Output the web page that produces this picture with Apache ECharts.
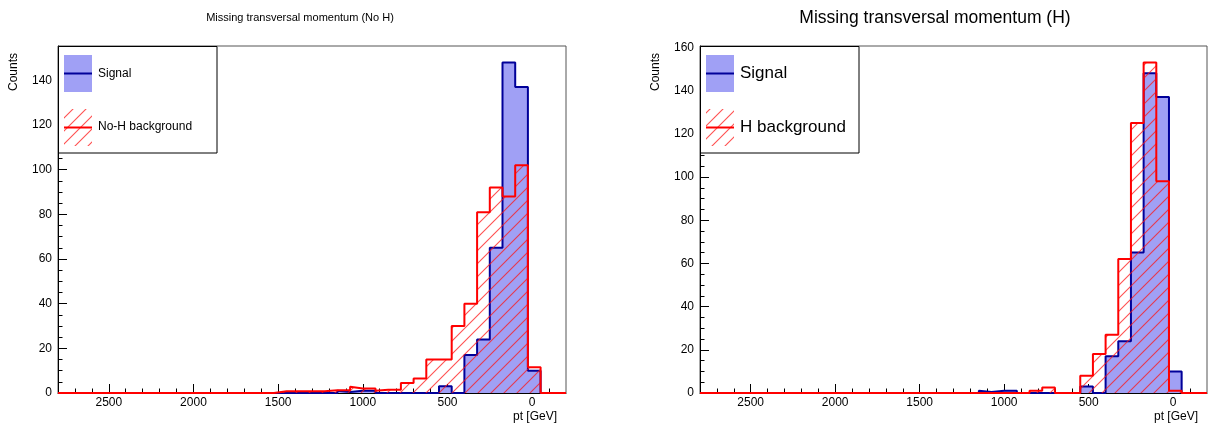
<!DOCTYPE html>
<html>
<head>
<meta charset="utf-8">
<script src="https://cdn.jsdelivr.net/npm/echarts@6/dist/echarts.min.js"></script>
<style>
  html, body { margin: 0; padding: 0; background: #fff; }
  #chart { width: 1210px; height: 426px; }
</style>
</head>
<body>
<div id="chart"></div>
<script>
// Missing transverse momentum histograms: 40 bins of 75 GeV from -200 to 2800 GeV
const BIN_START = -200;
const BIN_WIDTH = 75;
const X_MIN = -200;
const X_MAX = 2800;

// Signal counts per bin (ascending pt)
const signalCounts = [
  0, 0, 10, 137, 148, 65, 24, 17, 0, 3,
  0, 0, 0, 0, 0, 1, 0.5, 1, 0, 0,
  0, 0, 0, 0, 0, 0, 0, 0, 0, 0,
  0, 0, 0, 0, 0, 0, 0, 0, 0, 0
];

// No-H background counts per bin
const noHCounts = [
  0, 0, 11.5, 102, 88, 92, 81, 40, 30, 15,
  15, 6.5, 4.5, 1.5, 1, 2, 2.8, 1.2, 0.8, 0.8,
  0.8, 0.8, 0, 0, 0, 0, 0, 0, 0, 0,
  0, 0, 0, 0, 0, 0, 0, 0, 0, 0
];

// H background counts per bin
const hCounts = [
  0, 0, 1, 98, 153, 125, 62, 27, 18, 8,
  0, 0, 2.5, 1, 0, 0, 0, 0, 0, 0,
  0, 0, 0, 0, 0, 0, 0, 0, 0, 0,
  0, 0, 0, 0, 0, 0, 0, 0, 0, 0
];

// Axis ticks
const xMajorTicks = [0, 500, 1000, 1500, 2000, 2500];
const xMinorTicks = [-100, 100, 200, 300, 400, 600, 700, 800, 900, 1100, 1200, 1300, 1400,
  1600, 1700, 1800, 1900, 2100, 2200, 2300, 2400, 2600, 2700];
const yMajorLeft = [0, 20, 40, 60, 80, 100, 120, 140];
const yMajorRight = [0, 20, 40, 60, 80, 100, 120, 140, 160];
const yMinorTicks = [5, 10, 15, 25, 30, 35, 45, 50, 55, 65, 70, 75, 85, 90, 95,
  105, 110, 115, 125, 130, 135, 145, 150, 155];

const titles = ['Missing transversal momentum (No H)', 'Missing transversal momentum (H)'];
const legendLabels = [['Signal', 'No-H background'], ['Signal', 'H background']];

const SIGNAL_FILL = '#a0a0f5';
const SIGNAL_LINE = '#000099';
const BKG_LINE = '#ff0000';
const FONT = '"Liberation Sans", Arial, Helvetica, sans-serif';

// Diagonal "/" hatch tile
function makeHatch(step) {
  const c = document.createElement('canvas');
  c.width = step; c.height = step;
  const g = c.getContext('2d');
  g.strokeStyle = 'rgba(255,20,20,0.75)';
  g.lineWidth = 1.1;
  for (const off of [-step, 0, step]) {
    g.beginPath();
    g.moveTo(off - 2, step + 2);
    g.lineTo(off + step + 2, -2);
    g.stroke();
  }
  return c;
}
const hatch = { image: makeHatch(13), repeat: 'repeat' };

// Histogram outline points: one point per bin edge, drawn as a step line
function stepPoints(counts) {
  const pts = counts.map((c, i) => [BIN_START + i * BIN_WIDTH, c]);
  pts.push([BIN_START + counts.length * BIN_WIDTH, counts[counts.length - 1]]);
  return pts;
}

const grids = [
  { left: 58, top: 46, width: 508, height: 347, show: true, borderColor: '#555', borderWidth: 1, backgroundColor: '#fff' },
  { left: 700, top: 46, width: 507, height: 347, show: true, borderColor: '#555', borderWidth: 1, backgroundColor: '#fff' }
];
const yMaxes = [
  Math.max(...signalCounts, ...noHCounts) * 1.05,
  Math.max(...signalCounts, ...hCounts) * 1.05
];
const plain = v => String(v);

const xAxes = [], yAxes = [];
[0, 1].forEach(g => {
  xAxes.push({
    type: 'value', gridIndex: g, min: X_MIN, max: X_MAX, inverse: true, position: 'bottom',
    axisLine: { show: true, onZero: false, lineStyle: { color: '#000', width: 1 } },
    axisTick: { show: true, inside: true, length: 9, customValues: xMajorTicks, lineStyle: { color: '#000' } },
    axisLabel: { show: true, customValues: xMajorTicks, formatter: plain, margin: 4, color: '#000', fontSize: 12, fontFamily: FONT },
    splitLine: { show: false }
  });
  xAxes.push({
    type: 'value', gridIndex: g, min: X_MIN, max: X_MAX, inverse: true, position: 'bottom',
    axisLine: { show: false, onZero: false },
    axisTick: { show: true, inside: true, length: 4.5, customValues: xMinorTicks, lineStyle: { color: '#000' } },
    axisLabel: { show: false },
    splitLine: { show: false }
  });
  const major = g === 0 ? yMajorLeft : yMajorRight;
  yAxes.push({
    type: 'value', gridIndex: g, min: 0, max: yMaxes[g], position: 'left',
    axisLine: { show: true, onZero: false, lineStyle: { color: '#000', width: 1 } },
    axisTick: { show: true, inside: true, length: 9, customValues: major, lineStyle: { color: '#000' } },
    axisLabel: { show: true, customValues: major, formatter: plain, margin: 6, color: '#000', fontSize: 12, fontFamily: FONT },
    splitLine: { show: false }
  });
  yAxes.push({
    type: 'value', gridIndex: g, min: 0, max: yMaxes[g], position: 'left',
    axisLine: { show: false, onZero: false },
    axisTick: { show: true, inside: true, length: 4.5, customValues: yMinorTicks.filter(v => v < yMaxes[g]), lineStyle: { color: '#000' } },
    axisLabel: { show: false },
    splitLine: { show: false }
  });
});

function histSeries(g, counts, isSignal) {
  return {
    type: 'line', xAxisIndex: g * 2, yAxisIndex: g * 2,
    data: stepPoints(counts), step: 'end', symbol: 'none', clip: true,
    z: isSignal ? 3 : 4, animation: false,
    lineStyle: { color: isSignal ? SIGNAL_LINE : BKG_LINE, width: 2 },
    areaStyle: { color: isSignal ? SIGNAL_FILL : hatch, opacity: 1 }
  };
}

const series = [
  histSeries(0, signalCounts, true),
  histSeries(0, noHCounts, false),
  histSeries(1, signalCounts, true),
  histSeries(1, hCounts, false)
];

// Titles, axis titles and legend boxes
const graphic = [];
const plotLeft = [58, 700], plotRight = [566, 1207];
const titleCenters = [300, 935];
const titleSizes = [11, 17.5];
[0, 1].forEach(g => {
  graphic.push({ type: 'text', x: titleCenters[g], y: 18, z: 10,
    style: { text: titles[g], fill: '#000', font: titleSizes[g] + 'px ' + FONT, textAlign: 'center', textVerticalAlign: 'middle' } });
  graphic.push({ type: 'text', x: plotLeft[g] - 44, y: 72, rotation: Math.PI / 2, z: 10,
    style: { text: 'Counts', fill: '#000', font: '12px ' + FONT, textAlign: 'center', textVerticalAlign: 'middle' } });
  graphic.push({ type: 'text', x: plotRight[g] - 9, y: 417, z: 10,
    style: { text: 'pt [GeV]', fill: '#000', font: '12px ' + FONT, textAlign: 'right', textVerticalAlign: 'middle' } });

  const L = plotLeft[g];
  const fs = g === 0 ? 12 : 17;
  graphic.push({ type: 'rect', z: 20, shape: { x: L + 0.5, y: 46.5, width: 158.5, height: 106.5 },
    style: { fill: '#fff', stroke: '#000', lineWidth: 1 } });
  graphic.push({ type: 'rect', z: 21, shape: { x: L + 6, y: 55, width: 28, height: 37 },
    style: { fill: SIGNAL_FILL } });
  graphic.push({ type: 'line', z: 22, shape: { x1: L + 6, y1: 73.5, x2: L + 34, y2: 73.5 },
    style: { stroke: SIGNAL_LINE, lineWidth: 2 } });
  graphic.push({ type: 'text', z: 22, x: L + 40, y: 73.5,
    style: { text: legendLabels[g][0], fill: '#000', font: fs + 'px ' + FONT, textVerticalAlign: 'middle' } });
  graphic.push({ type: 'rect', z: 21, shape: { x: L + 6, y: 109, width: 28, height: 37 },
    style: { fill: hatch } });
  graphic.push({ type: 'line', z: 22, shape: { x1: L + 6, y1: 127.5, x2: L + 34, y2: 127.5 },
    style: { stroke: BKG_LINE, lineWidth: 2 } });
  graphic.push({ type: 'text', z: 22, x: L + 40, y: 127,
    style: { text: legendLabels[g][1], fill: '#000', font: fs + 'px ' + FONT, textVerticalAlign: 'middle' } });
});

const chart = echarts.init(document.getElementById('chart'), null, { renderer: 'canvas' });
chart.setOption({
  animation: false,
  backgroundColor: '#fff',
  grid: grids,
  xAxis: xAxes,
  yAxis: yAxes,
  series: series,
  graphic: graphic
});
</script>
</body>
</html>
